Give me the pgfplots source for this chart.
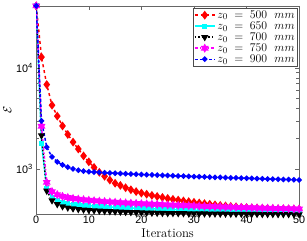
\documentclass[border=0pt]{standalone}
\usepackage{fontspec}
\usepackage{pgfplots}
\usepackage{pgfplotstable}
\pgfplotsset{compat=1.18}
\newfontfamily\tickfont{Liberation Sans}
\definecolor{mcyan}{rgb}{0,1,1}
\definecolor{mmag}{rgb}{1,0,1}
\definecolor{mred}{rgb}{1,0,0}
\definecolor{mblue}{rgb}{0,0,1}
\pgfdeclareplotmark{hexagram}{%
 \pgfpathmoveto{\pgfqpointpolar{90}{\pgfplotmarksize}}%
 \pgfpathlineto{\pgfqpointpolar{210}{\pgfplotmarksize}}%
 \pgfpathlineto{\pgfqpointpolar{330}{\pgfplotmarksize}}%
 \pgfpathclose
 \pgfpathmoveto{\pgfqpointpolar{270}{\pgfplotmarksize}}%
 \pgfpathlineto{\pgfqpointpolar{30}{\pgfplotmarksize}}%
 \pgfpathlineto{\pgfqpointpolar{150}{\pgfplotmarksize}}%
 \pgfpathclose
 \pgfusepathqfillstroke}
\pgfplotstableread{
it r c k m b
0 41000 41000 41000 41000 41000
1 12800 1800 2150 2650 3000
2 6840 640 610 740 1650
3 4280 520 490 600 1320
4 3340 488 450 560 1180
5 2670 470 428 538 1100
6 2200 458 416 524 1045
7 1850 450 408 513 1005
8 1580 444 402 505 975
9 1350 440 398 498 955
10 1180 436 394 492 943
11 1040 432 391 487 935
12 930 428 388 482 928
13 850 425 385 478 922
14 780 422 383 474 916
15 725 419 381 470 911
16 690 417 379 467 906
17 655 415 377 464 901
18 625 413 375 461 896
19 600 411 374 458 891
20 580 409 372 455 886
21 565 407 371 453 881
22 550 405 370 450 877
23 537 403 369 448 872
24 525 401 368 446 868
25 513 400 367 443 864
26 503 398 367 441 860
27 494 397 366 439 856
28 485 395 366 437 852
29 477 394 365 435 848
30 470 393 365 433 844
31 463 391 364 431 841
32 456 390 364 429 837
33 450 389 363 427 834
34 444 388 363 426 830
35 438 387 362 424 827
36 433 386 362 422 824
37 428 385 361 421 821
38 424 384 361 419 818
39 420 383 361 418 815
40 417 382 360 416 812
41 414 381 360 415 809
42 412 380 360 413 806
43 410 379 359 412 803
44 408 378 359 411 800
45 406 378 359 410 797
46 405 377 358 408 794
47 404 377 358 407 791
48 403 376 358 406 788
49 402 376 357 405 785
50 401 375 357 404 782
}\datatable
\begin{document}
\begin{tikzpicture}
\begin{axis}[
  scale only axis,
  width=267bp, height=212bp,
  at={(0,0)}, anchor=south west,
  ymode=log,
  xmin=0, xmax=50, ymin=355, ymax=41000,
  xtick={0,10,20,30,40,50},
  ytick={1000,10000},
  yticklabels={10\textsuperscript{3},10\textsuperscript{4}},
  tick label style={font=\tickfont\fontsize{11}{12}\selectfont},
  xticklabel style={inner sep=1.5pt},
  /pgf/number format/assume math mode=true,
  tick align=inside,
  axis line style={black!60},
  every tick/.style={black!60},
  xlabel={Iterations},
  ylabel={$\mathcal{E}$},
  label style={font=\fontsize{13}{14}\selectfont},
  xlabel style={inner sep=0pt, yshift=-3bp},
  ylabel style={yshift=-2bp},
  legend style={at={(0.993,0.99)}, anchor=north east, draw=black!70,
    font=\fontsize{12.5}{13}\selectfont, inner sep=0.5pt, row sep=-2pt, legend cell align=left},
  legend image code/.code={%
    \draw[mark repeat=2,mark phase=2] plot coordinates {(0cm,0cm) (0.36cm,0cm) (0.72cm,0cm)};},
]
\addplot[mred, line width=1.5pt, dashed, mark=diamond*, mark size=3.3pt, mark options={solid}] table[x=it,y=r]{\datatable};
\addlegendentry{$z_0 \;=\; 500\;\ mm$}
\addplot[mcyan, line width=1.5pt, solid, mark=square*, mark size=1.8pt] table[x=it,y=c]{\datatable};
\addlegendentry{$z_0 \;=\; 650\;\ mm$}
\addplot[black, line width=1.5pt, dotted, mark=triangle*, mark size=2.8pt, mark options={solid, rotate=180}] table[x=it,y=k]{\datatable};
\addlegendentry{$z_0 \;=\; 700\;\ mm$}
\addplot[mmag, line width=1.5pt, dash dot, mark=hexagram, mark size=3.2pt, mark options={solid}] table[x=it,y=m]{\datatable};
\addlegendentry{$z_0 \;=\; 750\;\ mm$}
\addplot[mblue, line width=1.5pt, densely dashed, mark=*, mark size=2pt, mark options={solid}] table[x=it,y=b]{\datatable};
\addlegendentry{$z_0 \;=\; 900\;\ mm$}
\end{axis}
\path (-32bp,-26bp) rectangle (275bp,218bp);
\end{tikzpicture}
\end{document}
